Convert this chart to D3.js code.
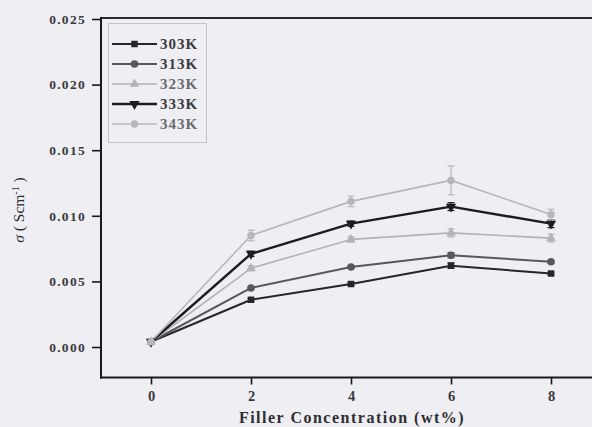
<!DOCTYPE html>
<html>
<head>
<meta charset="utf-8">
<script src="https://cdn.jsdelivr.net/npm/d3@7"></script>
<style>
  html, body { margin: 0; padding: 0; background: #efeef3; }
  svg { display: block; }
  text { font-family: "Liberation Serif", "Times New Roman", serif; font-weight: bold; }
</style>
</head>
<body>
<svg id="chart" width="592" height="427"></svg>
<script>
// Filler concentration (wt%)
const concentrations = [0, 2, 4, 6, 8];

// Conductivity σ (S cm⁻¹) for each temperature
const temperatures = ["303K", "313K", "323K", "333K", "343K"];
const sigma303 = [0.0004, 0.0036, 0.0048, 0.0062, 0.0056];
const sigma313 = [0.0004, 0.0045, 0.0061, 0.0070, 0.0065];
const sigma323 = [0.0004, 0.0060, 0.0082, 0.0087, 0.0083];
const sigma333 = [0.0004, 0.0071, 0.0094, 0.0107, 0.0094];
const sigma343 = [0.0004, 0.0085, 0.0111, 0.0127, 0.0101];

// Error bar half-heights
const err303 = [0, 0.0001, 0.0001, 0.0002, 0.0001];
const err313 = [0, 0.0001, 0.0001, 0.0002, 0.0001];
const err323 = [0, 0.0002, 0.0002, 0.0003, 0.0003];
const err333 = [0, 0.0002, 0.0002, 0.0003, 0.0003];
const err343 = [0, 0.0004, 0.0004, 0.0011, 0.0004];

const xTicks = [0, 2, 4, 6, 8];
const yTicks = [0.000, 0.005, 0.010, 0.015, 0.020, 0.025];

const seriesValues = [sigma303, sigma313, sigma323, sigma333, sigma343];
const seriesErrors = [err303, err313, err323, err333, err343];
const seriesStyle = [
  { color: "#262628", width: 2.0, symbol: d3.symbolSquare, size: 42, rot: 0 },
  { color: "#58585c", width: 2.0, symbol: d3.symbolCircle, size: 44, rot: 0 },
  { color: "#b2b2b8", width: 1.6, symbol: d3.symbolTriangle, size: 40, rot: 0 },
  { color: "#1c1c1e", width: 2.4, symbol: d3.symbolTriangle, size: 46, rot: 180 },
  { color: "#b6b6bc", width: 1.6, symbol: d3.symbolCircle, size: 44, rot: 0 }
];

const series = temperatures.map((t, i) => ({
  name: t,
  points: concentrations.map((c, j) => ({ x: c, y: seriesValues[i][j], e: seriesErrors[i][j] })),
  style: seriesStyle[i]
}));

const svg = d3.select("#chart");

const x = d3.scaleLinear().domain([-1, 9]).range([101, 601]);
const y = d3.scaleLinear().domain([0, 0.025]).range([347, 19]);
const yBottom = 377.5;

// Axis lines
const frame = svg.append("g");
frame.append("line").attr("x1", 101).attr("x2", 592).attr("y1", 18).attr("y2", 18)
  .attr("stroke", "#2a2a2e").attr("stroke-width", 2);
frame.append("line").attr("x1", 101).attr("x2", 101).attr("y1", 17).attr("y2", yBottom + 1)
  .attr("stroke", "#1a1a1c").attr("stroke-width", 2);
frame.append("line").attr("x1", 100).attr("x2", 592).attr("y1", yBottom).attr("y2", yBottom)
  .attr("stroke", "#1a1a1c").attr("stroke-width", 2);

// Y axis ticks and labels
const yAxis = d3.axisLeft(y).tickValues(yTicks).tickFormat(d3.format(".3f")).tickSize(9).tickPadding(6);
const gy = svg.append("g").attr("transform", "translate(101,0)").call(yAxis);
gy.select(".domain").remove();
gy.selectAll(".tick line").attr("stroke", "#1a1a1c").attr("stroke-width", 1.6);
gy.selectAll(".tick text").attr("fill", "#3a3a3e").attr("font-size", 13.5)
  .attr("letter-spacing", "1.3px")
  .style("font-family", "'Liberation Serif', serif").style("font-weight", "bold");

// X axis ticks and labels
const xAxis = d3.axisBottom(x).tickValues(xTicks).tickFormat(d3.format("d")).tickSize(7).tickPadding(6);
const gx = svg.append("g").attr("transform", `translate(0,${yBottom})`).call(xAxis);
gx.select(".domain").remove();
gx.selectAll(".tick line").attr("stroke", "#1a1a1c").attr("stroke-width", 1.6);
gx.selectAll(".tick text").attr("fill", "#3a3a3e").attr("font-size", 14.5)
  .style("font-family", "'Liberation Serif', serif").style("font-weight", "bold");

// Axis titles
svg.append("text").attr("x", 352).attr("y", 423).attr("text-anchor", "middle")
  .attr("font-size", 16).attr("letter-spacing", "1.5px").attr("fill", "#2e2e32")
  .text("Filler Concentration (wt%)");

const yTitle = svg.append("text").attr("transform", "translate(24,210) rotate(-90)")
  .attr("text-anchor", "middle").attr("font-size", 15.5).attr("fill", "#2e2e32")
  .style("font-weight", "normal");
yTitle.append("tspan").attr("font-style", "italic").text("σ");
yTitle.append("tspan").text(" ( Scm");
yTitle.append("tspan").attr("baseline-shift", "super").attr("font-size", 10).text("-1");
yTitle.append("tspan").text(" )");

// Series lines, error bars and markers
const line = d3.line().x(d => x(d.x)).y(d => y(d.y));
const plot = svg.append("g");

series.forEach(s => {
  plot.append("path").datum(s.points).attr("d", line)
    .attr("fill", "none").attr("stroke", s.style.color).attr("stroke-width", s.style.width)
    .attr("stroke-linejoin", "round");
});

series.forEach(s => {
  const g = plot.append("g");
  s.points.filter(p => p.e > 0).forEach(p => {
    const cx = x(p.x), y1 = y(p.y + p.e), y2 = y(p.y - p.e);
    g.append("line").attr("x1", cx).attr("x2", cx).attr("y1", y1).attr("y2", y2)
      .attr("stroke", s.style.color).attr("stroke-width", 1.2);
    [y1, y2].forEach(yy => g.append("line").attr("x1", cx - 3.5).attr("x2", cx + 3.5)
      .attr("y1", yy).attr("y2", yy).attr("stroke", s.style.color).attr("stroke-width", 1.2));
  });
  g.selectAll("path.marker").data(s.points).enter().append("path")
    .attr("class", "marker")
    .attr("d", d3.symbol().type(s.style.symbol).size(s.style.size))
    .attr("transform", d => `translate(${x(d.x)},${y(d.y)}) rotate(${s.style.rot})`)
    .attr("fill", s.style.color);
});

// Legend
const legend = svg.append("g");
legend.append("rect").attr("x", 108.5).attr("y", 23.5).attr("width", 98).attr("height", 119)
  .attr("fill", "none").attr("stroke", "#c4c4c8").attr("stroke-width", 1);
series.forEach((s, i) => {
  const ly = 44 + i * 20;
  legend.append("line").attr("x1", 112).attr("x2", 157).attr("y1", ly).attr("y2", ly)
    .attr("stroke", s.style.color).attr("stroke-width", s.style.width);
  legend.append("path")
    .attr("d", d3.symbol().type(s.style.symbol).size(s.style.size))
    .attr("transform", `translate(134.5,${ly}) rotate(${s.style.rot})`)
    .attr("fill", s.style.color);
  legend.append("text").attr("x", 160).attr("y", ly + 5).attr("font-size", 15)
    .attr("letter-spacing", "1px")
    .attr("fill", i === 2 || i === 4 ? "#6a6a70" : "#3a3a3e").text(s.name);
});
</script>
</body>
</html>
